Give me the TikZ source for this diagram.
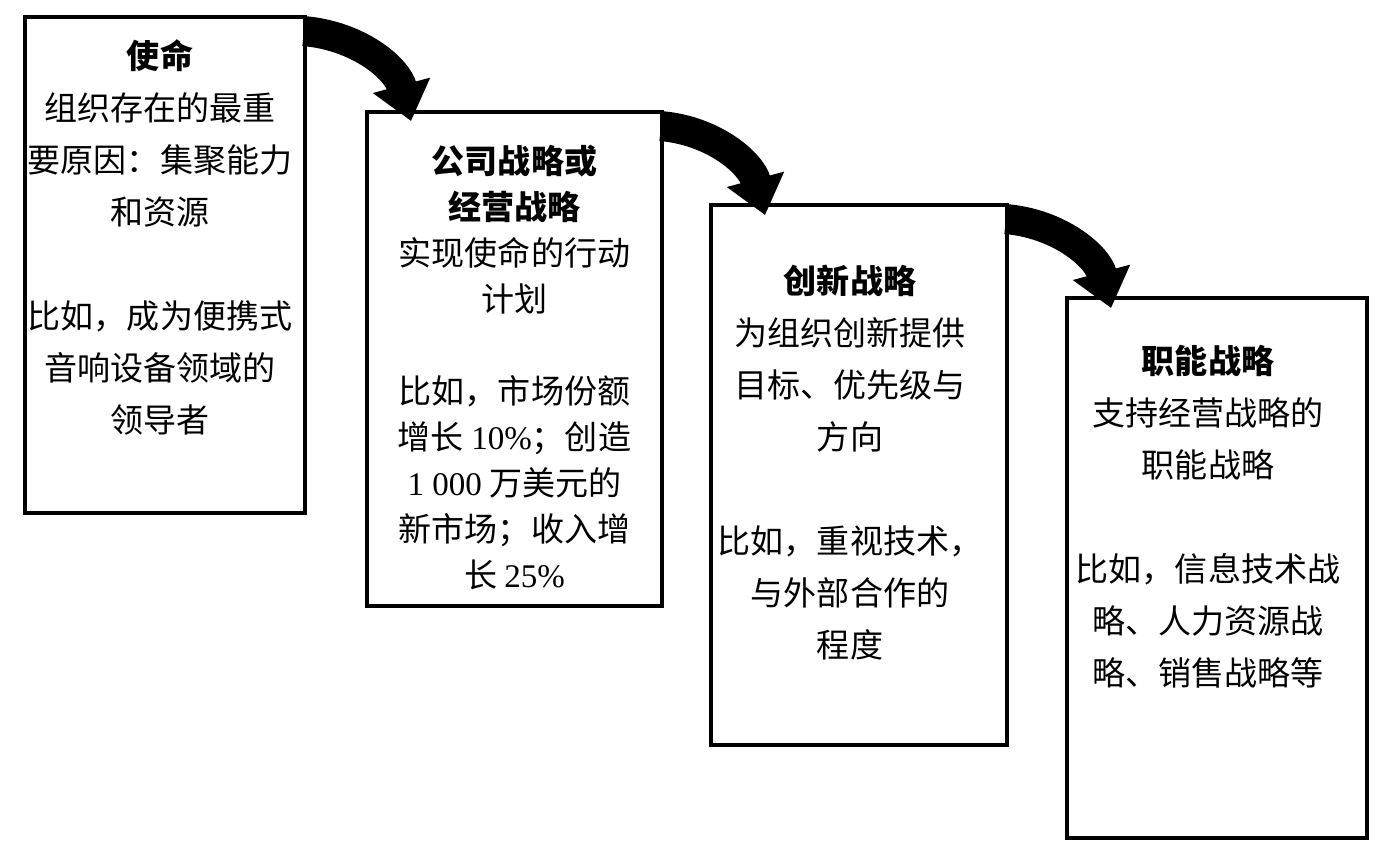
\documentclass[tikz,border=0pt]{standalone}
\usepackage{fontspec}
\setmainfont{Liberation Serif}
\newfontfamily\cjk{Noto Sans CJK SC}
\usepackage{tikz}
\usetikzlibrary{arrows.meta, positioning}
\newcommand{\lat}[1]{{\rmfamily #1}}

\begin{document}
\begin{tikzpicture}[
  font=\cjk\fontsize{9.4}{14.8}\selectfont,
  frame/.style={
    draw=black,
    line width=1.1pt,
    inner sep=0pt
  },
  txt/.style={
    align=center,
    inner sep=0pt
  },
  flowarrow/.style={
    draw=black,
    line width=0.3cm,
    -{Triangle[width=0.57cm, length=0.37cm]}
  }
]
\useasboundingbox (0,0) rectangle (13.82,-8.52);

% Boxes
\node[frame, minimum width=2.80cm, minimum height=4.96cm] (b1) at (1.65,-2.65) {};
\node[frame, minimum width=2.95cm, minimum height=4.94cm] (b2) at (5.145,-3.59) {};
\node[frame, minimum width=2.96cm, minimum height=5.40cm] (b3) at (8.59,-4.75) {};
\node[frame, minimum width=3.00cm, minimum height=5.40cm] (b4) at (12.17,-5.68) {};

% Texts
\node[txt, below=0.24cm of b1.north, xshift=-0.05cm] (t1)
{\textbf{使命}\\
 组织存在的最重\\
 要原因：集聚能力\\
 和资源\\[\baselineskip]
 比如，成为便携式\\
 音响设备领域的\\
 领导者};

\node[txt, font=\cjk\fontsize{9.4}{13.1}\selectfont, below=0.34cm of b2.north] (t2)
{\textbf{公司战略或}\\
 \textbf{经营战略}\\
 实现使命的行动\\
 计划\\[\baselineskip]
 比如，市场份额\\
 增长 \lat{10\%}；创造\\
 \lat{1 000} 万美元的\\
 新市场；收入增\\
 长 \lat{25\%}};

\node[txt, below=0.61cm of b3.north, xshift=-0.09cm] (t3)
{\textbf{创新战略}\\
 为组织创新提供\\
 目标、优先级与\\
 方向\\[\baselineskip]
 比如，重视技术，\\
 与外部合作的\\
 程度};

\node[txt, below=0.48cm of b4.north, xshift=-0.09cm] (t4)
{\textbf{职能战略}\\
 支持经营战略的\\
 职能战略\\[\baselineskip]
 比如，信息技术战\\
 略、人力资源战\\
 略、销售战略等};

% Arrows
\draw[flowarrow] ([xshift=-0.03cm, yshift=-0.16cm]b1.north east)
  to[out=-5, in=105] ([xshift=0.46cm, yshift=-0.11cm]b2.north west);
\draw[flowarrow] ([xshift=-0.03cm, yshift=-0.16cm]b2.north east)
  to[out=-5, in=105] ([xshift=0.56cm, yshift=-0.12cm]b3.north west);
\draw[flowarrow] ([xshift=-0.03cm, yshift=-0.16cm]b3.north east)
  to[out=-5, in=105] ([xshift=0.46cm, yshift=-0.12cm]b4.north west);

\end{tikzpicture}
\end{document}
